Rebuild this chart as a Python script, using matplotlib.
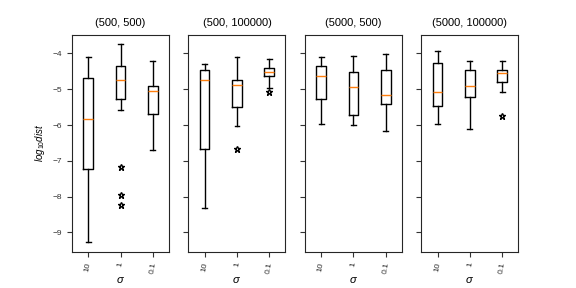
import matplotlib
matplotlib.use('Agg')
import matplotlib.pyplot as plt

plt.rcParams['font.family'] = ['Liberation Sans', 'DejaVu Sans']
plt.rcParams['mathtext.fontset'] = 'custom'
plt.rcParams['mathtext.it'] = 'Liberation Sans:italic'
plt.rcParams['mathtext.rm'] = 'Liberation Sans'

# panel titles and box labels
titles = ['(500, 500)', '(500, 100000)', '(5000, 500)', '(5000, 100000)']
sigmas = ['10', '1', '0.1']

# box stats per panel: whisker low, q1, median, q3, whisker high
whislo = [[-9.27, -5.59, -6.70], [-8.33, -6.04, -4.98], [-5.98, -6.01, -6.17], [-5.98, -6.12, -5.09]]
q1 = [[-7.24, -5.28, -5.70], [-6.67, -5.51, -4.64], [-5.28, -5.73, -5.40], [-5.48, -5.23, -4.81]]
med = [[-5.84, -4.73, -5.06], [-4.73, -4.89, -4.53], [-4.64, -4.95, -5.15], [-5.09, -4.92, -4.56]]
q3 = [[-4.70, -4.34, -4.92], [-4.47, -4.73, -4.42], [-4.36, -4.53, -4.45], [-4.28, -4.45, -4.47]]
whishi = [[-4.11, -3.75, -4.20], [-4.31, -4.11, -4.17], [-4.11, -4.08, -4.03], [-3.94, -4.20, -4.22]]
fliers = [[[], [-7.17, -7.96, -8.22], []],
          [[], [-6.67], [-5.09]],
          [[], [], []],
          [[], [], [-5.75]]]

fig, axes = plt.subplots(1, 4, figsize=(5.76, 2.88), dpi=100, sharey=True)
fig.subplots_adjust(bottom=0.125)

for i, ax in enumerate(axes):
    stats = []
    for j in range(3):
        stats.append(dict(whislo=whislo[i][j], q1=q1[i][j], med=med[i][j],
                          q3=q3[i][j], whishi=whishi[i][j], fliers=fliers[i][j],
                          label=sigmas[j]))
    ax.bxp(stats,
           flierprops=dict(marker='*', markerfacecolor='white',
                           markeredgecolor='black', markersize=5),
           medianprops=dict(color='#ff7f0e'))
    ax.set_title(titles[i], fontsize=8)
    ax.set_xlabel(r'$\sigma$', fontsize=8, labelpad=0)
    ax.tick_params(labelsize=6, labelcolor='#333333', color='#333333')
    for lab in ax.get_xticklabels():
        lab.set_rotation(80)
    for s in ax.spines.values():
        s.set_color('#262626')

axes[0].set_ylabel(r'$log_{10}dist$', fontsize=7)
axes[0].set_yticks([-9, -8, -7, -6, -5, -4])

fig.savefig('out.png', dpi=100)
